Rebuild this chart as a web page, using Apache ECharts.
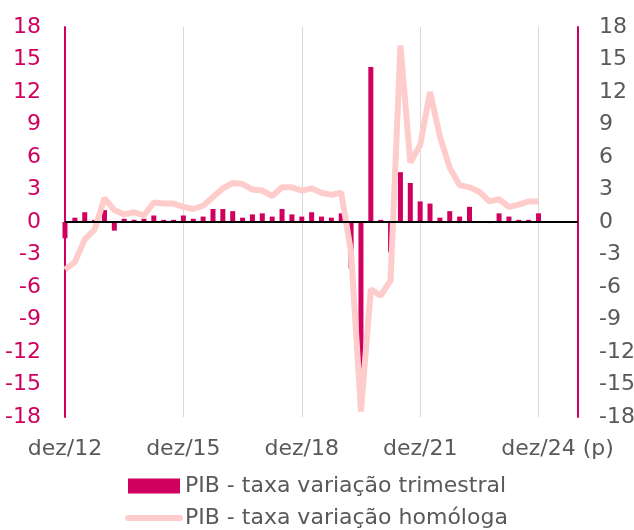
<!DOCTYPE html>
<html>
<head>
<meta charset="utf-8">
<script src="https://cdn.jsdelivr.net/npm/echarts@6/dist/echarts.min.js"></script>
<style>
  html, body { margin: 0; padding: 0; background: #fff; }
  #chart { width: 634px; height: 530px; }
</style>
</head>
<body>
<div id="chart"></div>
<script>
// trimestres de dez/12 a dez/25 (eixo vai até dez/25)
const quarters = [
  'dez/12',
  'mar/13', 'jun/13', 'set/13', 'dez/13',
  'mar/14', 'jun/14', 'set/14', 'dez/14',
  'mar/15', 'jun/15', 'set/15', 'dez/15',
  'mar/16', 'jun/16', 'set/16', 'dez/16',
  'mar/17', 'jun/17', 'set/17', 'dez/17',
  'mar/18', 'jun/18', 'set/18', 'dez/18',
  'mar/19', 'jun/19', 'set/19', 'dez/19',
  'mar/20', 'jun/20', 'set/20', 'dez/20',
  'mar/21', 'jun/21', 'set/21', 'dez/21',
  'mar/22', 'jun/22', 'set/22', 'dez/22',
  'mar/23', 'jun/23', 'set/23', 'dez/23',
  'mar/24', 'jun/24', 'set/24', 'dez/24 (p)',
  'mar/25', 'jun/25', 'set/25', 'dez/25'
]

// PIB - taxa de variação trimestral (%)
const qoqRate = [
  -1.5, 0.4, 0.9, 0.2, 1.1, -0.8, 0.3, 0.2, 0.3, 0.6, 0.2, 0.2,
  0.6, 0.3, 0.5, 1.2, 1.2, 1.0, 0.4, 0.7, 0.8, 0.5, 1.2, 0.7,
  0.5, 0.9, 0.5, 0.4, 0.8, -4.3, -14.0, 14.3, 0.2, -2.8, 4.6, 3.6,
  1.9, 1.7, 0.4, 1.0, 0.5, 1.4, 0.0, -0.1, 0.8, 0.5, 0.2, 0.2, 0.8
]

// PIB - taxa de variação homóloga (%)
const yoyRate = [
  -4.4, -3.7, -1.6, -0.7, 2.2, 1.1, 0.7, 0.9, 0.6, 1.8, 1.7, 1.7,
  1.4, 1.2, 1.5, 2.3, 3.1, 3.6, 3.5, 3.0, 2.9, 2.4, 3.2, 3.2,
  2.9, 3.1, 2.7, 2.5, 2.7, -2.8, -17.5, -6.2, -6.8, -5.4, 16.3, 5.5,
  7.1, 12.0, 7.9, 5.0, 3.4, 3.2, 2.8, 1.9, 2.1, 1.4, 1.6, 1.9, 1.9
]

const yTicks = { min: -18, max: 18, interval: 3 }

const seriesNames = ['PIB - taxa variação trimestral', 'PIB - taxa variação homóloga']

const pink = '#d0005f'
const lightPink = '#ffcccc'
const grey = '#595959'
const font = 'DejaVu Sans'
const fontSize = 22

let myChart = echarts.init(document.getElementById('chart'))

const yAxisBase = {
  type: 'value',
  min: yTicks.min,
  max: yTicks.max,
  interval: yTicks.interval,
  axisTick: { show: false },
  splitLine: { show: false },
  axisLine: { show: true, lineStyle: { color: pink, width: 2 } }
}

let option = {
  animation: false,
  textStyle: { fontFamily: font },
  grid: {
    left: 65,
    right: 56,
    top: 27,
    bottom: 113,
    containLabel: false,
    outerBoundsMode: 'none'
  },
  legend: {
    orient: 'vertical',
    left: 125,
    top: 475,
    height: 60,
    padding: 0,
    itemWidth: 52,
    itemHeight: 15,
    itemGap: 10,
    textStyle: { color: grey, fontSize: fontSize, fontFamily: font },
    data: [
      { name: seriesNames[0], icon: 'rect' },
      {
        name: seriesNames[1],
        itemStyle: { opacity: 0 },
        lineStyle: { color: lightPink, width: 6, cap: 'round' }
      }
    ]
  },
  xAxis: {
    type: 'category',
    data: quarters,
    boundaryGap: false,
    axisLine: { show: false, onZero: false },
    axisTick: { show: false },
    axisLabel: {
      interval: function (i) { return i % 12 === 0 },
      color: grey,
      fontSize: fontSize,
      margin: 21,
      formatter: function (v) {
        if (v.indexOf('(p)') > -1) {
          return '{pad|}' + v.replace(' (p)', '') + '{p| (p)}'
        }
        return v
      },
      rich: {
        pad: { width: 38 },
        p: { color: grey, fontSize: fontSize, fontFamily: font }
      }
    },
    splitLine: {
      show: true,
      interval: function (i) { return i % 12 === 0 && i > 0 },
      lineStyle: { color: '#d9d9d9', width: 1 }
    }
  },
  yAxis: [
    Object.assign({}, yAxisBase, {
      position: 'left',
      axisLabel: { color: pink, fontSize: fontSize, margin: 24 }
    }),
    Object.assign({}, yAxisBase, {
      position: 'right',
      axisLabel: { color: grey, fontSize: fontSize, margin: 21 }
    })
  ],
  series: [
    {
      name: seriesNames[0],
      type: 'bar',
      data: qoqRate,
      barWidth: 5,
      itemStyle: { color: pink },
      markLine: {
        silent: true,
        symbol: 'none',
        label: { show: false },
        lineStyle: { color: '#000', width: 2, type: 'solid' },
        data: [{ yAxis: 0 }]
      }
    },
    {
      name: seriesNames[1],
      type: 'line',
      data: yoyRate,
      symbol: 'none',
      z: 3,
      lineStyle: { color: lightPink, width: 6 },
      itemStyle: { color: lightPink }
    }
  ]
}

myChart.setOption(option)
window.addEventListener('resize', function () {
  myChart.resize()
})
</script>
</body>
</html>
